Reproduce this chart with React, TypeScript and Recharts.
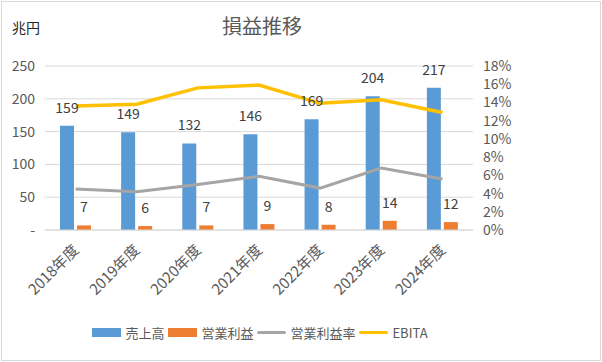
import { ComposedChart, Bar, Line, XAxis, YAxis, CartesianGrid, Legend, LabelList } from "recharts"

const years = ["2018年度", "2019年度", "2020年度", "2021年度", "2022年度", "2023年度", "2024年度"]
const sales = [159, 149, 132, 146, 169, 204, 217]
const opProfit = [7, 6, 7, 9, 8, 14, 12]
const opMargin = [0.045, 0.042, 0.05, 0.059, 0.046, 0.068, 0.056]
const ebita = [0.136, 0.138, 0.156, 0.159, 0.139, 0.143, 0.129]
const leftTicks = [0, 50, 100, 150, 200, 250]
const rightTicks = [0, 0.02, 0.04, 0.06, 0.08, 0.1, 0.12, 0.14, 0.16, 0.18]

const data = years.map((y, i) => ({
    year: y,
    sales: sales[i],
    op: opProfit[i],
    margin: opMargin[i],
    ebita: ebita[i],
}))

const font = '"Noto Sans CJK JP", "Noto Sans", sans-serif'
const textColor = "#595959"

const legendItems = [
    { name: "売上高", color: "#5B9BD5", type: "rect" },
    { name: "営業利益", color: "#ED7D31", type: "rect" },
    { name: "営業利益率", color: "#A5A5A5", type: "line" },
    { name: "EBITA", color: "#FFC000", type: "line" },
]

function XTick(props: any) {
    const { x, y, payload } = props
    return (
        <text
            x={x + 4}
            y={y + 13}
            transform={`rotate(-45, ${x + 4}, ${y + 13})`}
            textAnchor="end"
            fontSize={15}
            fill={textColor}
            fontFamily={font}
        >
            {payload.value}
        </text>
    )
}

function LegendContent() {
    return (
        <div style={{ display: "flex", justifyContent: "center", alignItems: "center", height: 20, fontFamily: font, fontSize: 13, color: textColor }}>
            {legendItems.map((it) => (
                <div key={it.name} style={{ display: "flex", alignItems: "center", marginRight: 4 }}>
                    <div
                        style={{
                            width: 29,
                            height: it.type === "rect" ? 9 : 3,
                            background: it.color,
                            borderRadius: it.type === "line" ? 2 : 0,
                            marginRight: 4,
                        }}
                    />
                    <span>{it.name}</span>
                </div>
            ))}
        </div>
    )
}

export default function App() {
    return (
        <div style={{ position: "fixed", left: 0, top: 0, width: 602, height: 362, background: "#fff" }}>
            <div style={{ position: "absolute", left: 1, top: 1, width: 598, height: 358, border: "1px solid #D9D9D9" }} />
            <div style={{ position: "absolute", left: 262, top: 11, transform: "translateX(-50%)", fontFamily: font, fontSize: 20, color: textColor, whiteSpace: "nowrap" }}>
                損益推移
            </div>
            <div style={{ position: "absolute", left: 12, top: 17, fontFamily: font, fontSize: 14, color: "#262626" }}>
                兆円
            </div>
            <ComposedChart
                width={602}
                height={362}
                data={data}
                margin={{ top: 66, right: 79, left: 0, bottom: 32 }}
                barGap={3}
                barCategoryGap="24%"
                style={{ position: "absolute", left: 0, top: 0 }}
            >
                <CartesianGrid yAxisId="left" vertical={false} stroke="#D9D9D9" />
                <XAxis
                    dataKey="year"
                    height={80}
                    tick={<XTick />}
                    tickLine={false}
                    axisLine={{ stroke: "#D9D9D9" }}
                    interval={0}
                />
                <YAxis
                    yAxisId="left"
                    width={45}
                    domain={[0, 250]}
                    ticks={leftTicks}
                    interval={0}
                    tickSize={0}
                    tickMargin={10}
                    axisLine={false}
                    tickLine={false}
                    tick={{ fontSize: 14, fill: textColor, fontFamily: font }}
                    tickFormatter={(v) => (v === 0 ? "-" : `${v}`)}
                />
                <YAxis
                    yAxisId="right"
                    orientation="right"
                    width={50}
                    domain={[0, 0.18]}
                    ticks={rightTicks}
                    interval={0}
                    tickSize={0}
                    tickMargin={10}
                    axisLine={false}
                    tickLine={false}
                    tick={{ fontSize: 14, fill: textColor, fontFamily: font, textAnchor: "start" }}
                    tickFormatter={(v) => `${Math.round(v * 100)}%`}
                />
                <Legend verticalAlign="bottom" wrapperStyle={{ top: 322, left: 0, width: 524 }} content={<LegendContent />} />
                <Bar yAxisId="left" dataKey="sales" name="売上高" fill="#5B9BD5" barSize={14} isAnimationActive={false}>
                    <LabelList dataKey="sales" position="top" offset={13} fontSize={14} fill="#404040" fontFamily={font} />
                </Bar>
                <Bar yAxisId="left" dataKey="op" name="営業利益" fill="#ED7D31" barSize={14} isAnimationActive={false}>
                    <LabelList dataKey="op" position="top" offset={13} fontSize={14} fill="#404040" fontFamily={font} />
                </Bar>
                <Line yAxisId="right" dataKey="margin" name="営業利益率" stroke="#A5A5A5" strokeWidth={3} dot={false} isAnimationActive={false} />
                <Line yAxisId="right" dataKey="ebita" name="EBITA" stroke="#FFC000" strokeWidth={3.5} dot={false} isAnimationActive={false} />
            </ComposedChart>
        </div>
    )
}
